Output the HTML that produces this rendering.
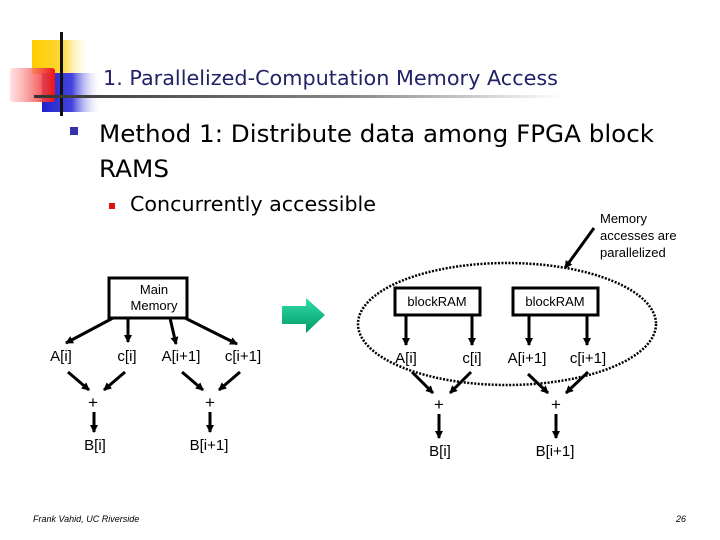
<!DOCTYPE html>
<html><head><meta charset="utf-8"><style>
html,body{margin:0;padding:0;background:#fff;}
svg{display:block;}
</style></head><body>
<svg width="720" height="540" viewBox="0 0 720 540" xmlns="http://www.w3.org/2000/svg">
<defs>
<linearGradient id="yel" x1="0" x2="1"><stop offset="0" stop-color="#ffcc00"/><stop offset="0.5" stop-color="#ffd633"/><stop offset="1" stop-color="#fff" stop-opacity="0"/></linearGradient>
<linearGradient id="blu" x1="0" x2="1"><stop offset="0" stop-color="#2222cc"/><stop offset="0.5" stop-color="#4444dd"/><stop offset="1" stop-color="#fff" stop-opacity="0"/></linearGradient>
<linearGradient id="red" x1="1" x2="0"><stop offset="0" stop-color="#ee1111"/><stop offset="1" stop-color="#ffcccc" stop-opacity="0.6"/></linearGradient>
<linearGradient id="hl" x1="0" x2="1"><stop offset="0" stop-color="#333"/><stop offset="0.6" stop-color="#888"/><stop offset="1" stop-color="#fff"/></linearGradient>
<linearGradient id="grn" x1="0" y1="0" x2="0" y2="1"><stop offset="0" stop-color="#33ddaa"/><stop offset="1" stop-color="#009966"/></linearGradient>
<marker id="ah" markerWidth="8" markerHeight="8" refX="7" refY="4" orient="auto" markerUnits="userSpaceOnUse"><path d="M0,0 L8,4 L0,8 z" fill="#000"/></marker>
</defs>
<rect x="32" y="40" width="60" height="34" fill="url(#yel)"/>
<rect x="42" y="73" width="60" height="39" fill="url(#blu)"/>
<rect x="10" y="68" width="45" height="34" rx="3" fill="url(#red)"/>
<rect x="60" y="32" width="3" height="84" fill="#111"/>
<rect x="34" y="95" width="530" height="3" fill="url(#hl)"/>
<g font-family="DejaVu Sans, sans-serif">
<text x="103" y="85" font-size="20" fill="#222266" textLength="455" lengthAdjust="spacingAndGlyphs">1. Parallelized-Computation Memory Access</text>
<text x="99" y="142" font-size="24" fill="#000" textLength="555" lengthAdjust="spacingAndGlyphs">Method 1: Distribute data among FPGA block</text>
<text x="99" y="177" font-size="24" fill="#000" textLength="70" lengthAdjust="spacingAndGlyphs">RAMS</text>
<text x="130" y="211" font-size="20" fill="#000" textLength="246" lengthAdjust="spacingAndGlyphs">Concurrently accessible</text>
</g>
<rect x="70" y="127" width="8" height="8" fill="#3333aa"/>
<rect x="109" y="203" width="6" height="6" fill="#dd1111"/>
<g font-family="Liberation Sans, sans-serif" font-size="13" fill="#000">
<text x="600" y="223">Memory</text><text x="600" y="240">accesses are</text><text x="600" y="257">parallelized</text>
</g>
<line x1="594" y1="228" x2="565" y2="268" stroke="#000" stroke-width="3" marker-end="url(#ah)"/>
<!-- left diagram -->
<rect x="109" y="278" width="78" height="40" fill="#fff" stroke="#000" stroke-width="3"/>
<g font-family="Liberation Sans, sans-serif" font-size="15" fill="#000" text-anchor="middle">
<text x="154" y="294" font-size="13">Main</text><text x="154" y="310" font-size="13">Memory</text>
<text x="61" y="361">A[i]</text><text x="127" y="361">c[i]</text><text x="181" y="361">A[i+1]</text><text x="243" y="361">c[i+1]</text>
<text x="93" y="408" font-size="17">+</text><text x="210" y="408" font-size="17">+</text>
<text x="95" y="450">B[i]</text><text x="209" y="450">B[i+1]</text>
</g>
<g stroke="#000" stroke-width="3" marker-end="url(#ah)">
<line x1="113" y1="318" x2="66" y2="343"/>
<line x1="128" y1="318" x2="128" y2="342"/>
<line x1="170" y1="318" x2="176" y2="344"/>
<line x1="185" y1="318" x2="237" y2="344"/>
<line x1="68" y1="372" x2="89" y2="390"/>
<line x1="125" y1="372" x2="104" y2="390"/>
<line x1="182" y1="372" x2="203" y2="390"/>
<line x1="240" y1="372" x2="219" y2="390"/>
<line x1="94" y1="412" x2="94" y2="432"/>
<line x1="210" y1="412" x2="210" y2="432"/>
</g>
<!-- green arrow -->
<path d="M282,306 L306,306 L306,298 L325,315 L306,333 L306,324 L282,324 z" fill="url(#grn)"/>
<!-- right diagram -->
<ellipse cx="507" cy="324" rx="149" ry="61" fill="none" stroke="#000" stroke-width="2.5" stroke-dasharray="2,1.5"/>
<rect x="395" y="288" width="85" height="27" fill="#fff" stroke="#000" stroke-width="3"/>
<rect x="513" y="288" width="85" height="27" fill="#fff" stroke="#000" stroke-width="3"/>
<g font-family="Liberation Sans, sans-serif" font-size="15" fill="#000" text-anchor="middle">
<text x="437" y="306" font-size="13">blockRAM</text><text x="555" y="306" font-size="13">blockRAM</text>
<text x="406" y="363">A[i]</text><text x="472" y="363">c[i]</text><text x="527" y="363">A[i+1]</text><text x="588" y="363">c[i+1]</text>
<text x="439" y="410" font-size="17">+</text><text x="556" y="410" font-size="17">+</text>
<text x="440" y="456">B[i]</text><text x="555" y="456">B[i+1]</text>
</g>
<g stroke="#000" stroke-width="3" marker-end="url(#ah)">
<line x1="406" y1="315" x2="406" y2="345"/>
<line x1="472" y1="315" x2="472" y2="345"/>
<line x1="529" y1="315" x2="529" y2="345"/>
<line x1="587" y1="315" x2="587" y2="345"/>
<line x1="412" y1="372" x2="433" y2="393"/>
<line x1="471" y1="372" x2="450" y2="393"/>
<line x1="528" y1="374" x2="548" y2="393"/>
<line x1="588" y1="372" x2="566" y2="393"/>
<line x1="439" y1="414" x2="439" y2="438"/>
<line x1="556" y1="414" x2="556" y2="438"/>
</g>
<text x="33" y="522" font-family="Liberation Sans, sans-serif" font-size="9" font-style="italic" fill="#000">Frank Vahid, UC Riverside</text>
<text x="676" y="522" font-family="Liberation Sans, sans-serif" font-size="9" font-style="italic" fill="#000">26</text>
</svg>
</body></html>
